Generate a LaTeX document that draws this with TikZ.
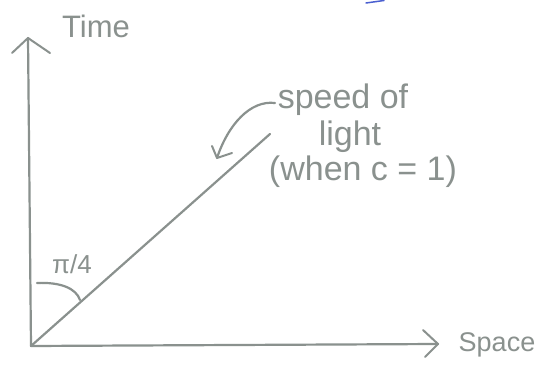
\documentclass[tikz,border=0pt]{standalone}
\usepackage{fontspec}
\setmainfont{Liberation Sans}
\usetikzlibrary{arrows.meta}
\definecolor{pen}{HTML}{8A918E}
\definecolor{bluepen}{HTML}{4A5FD0}
\tikzset{
  stroke/.style={draw=pen, line width=2.2pt, line cap=round, line join=round},
  openhead/.style={stroke, line width=2pt},
  hand/.style={text=pen, inner sep=0pt},
}
\begin{document}
\begin{tikzpicture}[x=1pt,y=-1pt]
\useasboundingbox[fill=white] (0,0) rectangle (542,369);
% axes
\coordinate (O) at (31,346);
\coordinate (T) at (28,38);
\coordinate (S) at (438,344);
\draw[stroke] (O) -- (T);
\draw[openhead] (12,53) -- (T) -- (50,53);
\draw[stroke] (O) -- (S);
\draw[openhead] (423,330) -- (S) -- (425,357);
% light line
\coordinate (L) at (270,134);
\draw[stroke] (O) -- (L);
% angle arc
\coordinate (A1) at (37,283);
\coordinate (A2) at (80,300);
\draw[stroke] (A1) .. controls (60,282) and (76,288) .. (A2);
% labels
\node[hand, font=\fontsize{31}{36}\selectfont] (time) at (96,26) {Time};
\node[hand, font=\fontsize{27}{32}\selectfont] (space) at (497,345) {Space};
\node[hand, font=\fontsize{26}{30}\selectfont] (pi) at (72,264) {π/4};
\node[hand, font=\fontsize{34}{40}\selectfont] (sol1) at (343,100) {speed of};
\node[hand, font=\fontsize{34}{40}\selectfont] (sol2) at (350,137) {light};
\node[hand, font=\fontsize{34}{40}\selectfont] (sol3) at (363,172) {(when c = 1)};
% annotation arrow
\coordinate (c0) at (275,103);
\coordinate (tip) at (217,158);
\draw[stroke] (c0) .. controls (250,100) and (228,125) .. (tip);
\draw[openhead] (212,146) -- (tip) -- (232,153);
% small blue mark at top
\draw[bluepen, line width=1.5pt, line cap=round] (366,3) -- (384,0.5);
\end{tikzpicture}
\end{document}
